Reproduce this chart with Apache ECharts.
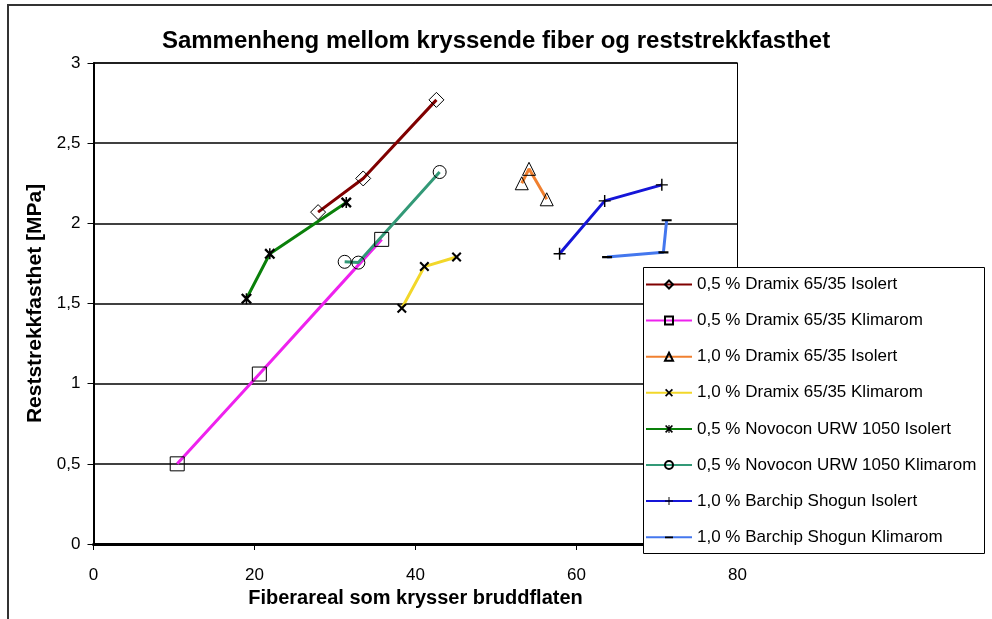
<!DOCTYPE html>
<html>
<head>
<meta charset="utf-8">
<script src="https://cdn.jsdelivr.net/npm/echarts@6/dist/echarts.min.js"></script>
<style>
  html, body { margin: 0; padding: 0; background: #fff; }
  #chart { width: 992px; height: 619px; }
</style>
</head>
<body>
<div id="chart"></div>
<script>
// Fibre area crossing the fracture surface (x) vs. residual tensile strength in MPa (y)
const seriesNames = [
  '0,5 % Dramix 65/35 Isolert',
  '0,5 % Dramix 65/35 Klimarom',
  '1,0 % Dramix 65/35 Isolert',
  '1,0 % Dramix 65/35 Klimarom',
  '0,5 % Novocon URW 1050 Isolert',
  '0,5 % Novocon URW 1050 Klimarom',
  '1,0 % Barchip Shogun Isolert',
  '1,0 % Barchip Shogun Klimarom'
];
const dramix05Isolert   = [[27.9, 2.07], [33.5, 2.28], [42.6, 2.77]];
const dramix05Klimarom  = [[10.4, 0.50], [20.6, 1.06], [35.8, 1.90]];
const dramix10Isolert   = [[53.2, 2.25], [54.1, 2.34], [56.3, 2.15]];
const dramix10Klimarom  = [[38.3, 1.47], [41.1, 1.73], [45.1, 1.79]];
const novocon05Isolert  = [[19.0, 1.53], [21.9, 1.81], [31.4, 2.13]];
const novocon05Klimarom = [[31.2, 1.76], [32.9, 1.755], [43.0, 2.32]];
const barchip10Isolert  = [[57.9, 1.81], [63.5, 2.14], [70.6, 2.24]];
const barchip10Klimarom = [[63.8, 1.79], [70.8, 1.82], [71.2, 2.02]];

const xTicks = [0, 20, 40, 60, 80];
const yTicks = [0, 0.5, 1, 1.5, 2, 2.5, 3];

const FONT = "'Liberation Sans', Arial, sans-serif";

// Marker shapes drawn as filled outlines
const crossPath = 'path://M0,1.5L1.5,0L5,3.5L8.5,0L10,1.5L6.5,5L10,8.5L8.5,10L5,6.5L1.5,10L0,8.5L3.5,5Z';
const starPath  = 'path://M0,1.5L1.5,0L5,3.5L8.5,0L10,1.5L6.5,5L10,8.5L8.5,10L5,6.5L1.5,10L0,8.5L3.5,5Z M4.3,0H5.7V10H4.3Z';
const plusPath  = 'path://M4.4,0H5.6V4.4H10V5.6H5.6V10H4.4V5.6H0V4.4H4.4Z';
const dashPath  = 'path://M0,0H0.01V0.01H0Z M0,4H10V6.2H0Z M9.99,9.99H10V10H9.99Z';

const hollow = { color: 'rgba(255,255,255,0)', borderColor: '#000', borderWidth: 1 };
const solid  = { color: '#000', borderWidth: 0 };

function makeSeries(name, data, color, symbol, size, itemStyle) {
  return {
    name: name,
    type: 'line',
    data: data,
    symbol: symbol,
    symbolSize: size,
    showSymbol: true,
    lineStyle: { color: color, width: 3 },
    itemStyle: itemStyle,
    emphasis: { disabled: true },
    animation: false
  };
}

const series = [
  makeSeries(seriesNames[0], dramix05Isolert,   '#800000', 'diamond',   15, hollow),
  makeSeries(seriesNames[1], dramix05Klimarom,  '#ee22ee', 'rect',      14, hollow),
  makeSeries(seriesNames[2], dramix10Isolert,   '#f08030', 'triangle',  13, hollow),
  makeSeries(seriesNames[3], dramix10Klimarom,  '#f2d72a', crossPath,   10, solid),
  makeSeries(seriesNames[4], novocon05Isolert,  '#0a800a', starPath,    11, solid),
  makeSeries(seriesNames[5], novocon05Klimarom, '#339977', 'circle',    13, hollow),
  makeSeries(seriesNames[6], barchip10Isolert,  '#1515d8', plusPath,    12, solid),
  makeSeries(seriesNames[7], barchip10Klimarom, '#4477ee', dashPath,    10, solid)
];

const chart = echarts.init(document.getElementById('chart'), null, { renderer: 'canvas' });

chart.setOption({
  animation: false,
  backgroundColor: '#fff',
  title: {
    text: 'Sammenheng mellom kryssende fiber og reststrekkfasthet',
    left: 'center',
    top: 24,
    textStyle: { fontFamily: FONT, fontSize: 24, fontWeight: 'bold', color: '#000' }
  },
  grid: {
    left: 93.5, right: 254.5, top: 63, bottom: 75,
    show: true, borderColor: '#000', borderWidth: 1, backgroundColor: '#fff'
  },
  xAxis: {
    type: 'value',
    min: xTicks[0], max: xTicks[xTicks.length - 1], interval: 20,
    name: 'Fiberareal som krysser bruddflaten',
    nameLocation: 'middle', nameGap: 38,
    nameTextStyle: { fontFamily: FONT, fontSize: 20, fontWeight: 'bold', color: '#000' },
    axisLine: { onZero: false, lineStyle: { color: '#000', width: 3 } },
    axisTick: { show: true, inside: false, length: 6, lineStyle: { color: '#000', width: 1 } },
    axisLabel: { margin: 23, fontFamily: FONT, fontSize: 17, color: '#000' },
    splitLine: { show: false }
  },
  yAxis: {
    type: 'value',
    min: yTicks[0], max: yTicks[yTicks.length - 1], interval: 0.5,
    name: 'Reststrekkfasthet [MPa]',
    nameLocation: 'middle', nameRotate: 90, nameGap: 46,
    nameTextStyle: { fontFamily: FONT, fontSize: 21, fontWeight: 'bold', color: '#000' },
    axisLine: { lineStyle: { color: '#000', width: 2 } },
    axisTick: { show: true, inside: false, length: 6, lineStyle: { color: '#000', width: 1 } },
    axisLabel: {
      margin: 13, fontFamily: FONT, fontSize: 17, color: '#000',
      formatter: v => String(v).replace('.', ',')
    },
    splitLine: { show: true, lineStyle: { color: '#000', width: 1.5 } }
  },
  legend: {
    orient: 'vertical',
    left: 645, top: 276,
    padding: 0,
    itemWidth: 46, itemHeight: 10, itemGap: 19.1,
    selectedMode: false,
    data: seriesNames,
    textStyle: { fontFamily: FONT, fontSize: 17, lineHeight: 16, color: '#000' },
    z: 10
  },
  graphic: [
    {
      type: 'rect', z: 8,
      shape: { x: 643.5, y: 267.5, width: 341, height: 286 },
      style: { fill: '#fff', stroke: '#000', lineWidth: 1 }
    },
    {
      type: 'rect', z: 1,
      shape: { x: 8, y: 5, width: 1000, height: 700 },
      style: { fill: 'none', stroke: '#333', lineWidth: 2 }
    }
  ],
  series: series
});
</script>
</body>
</html>
